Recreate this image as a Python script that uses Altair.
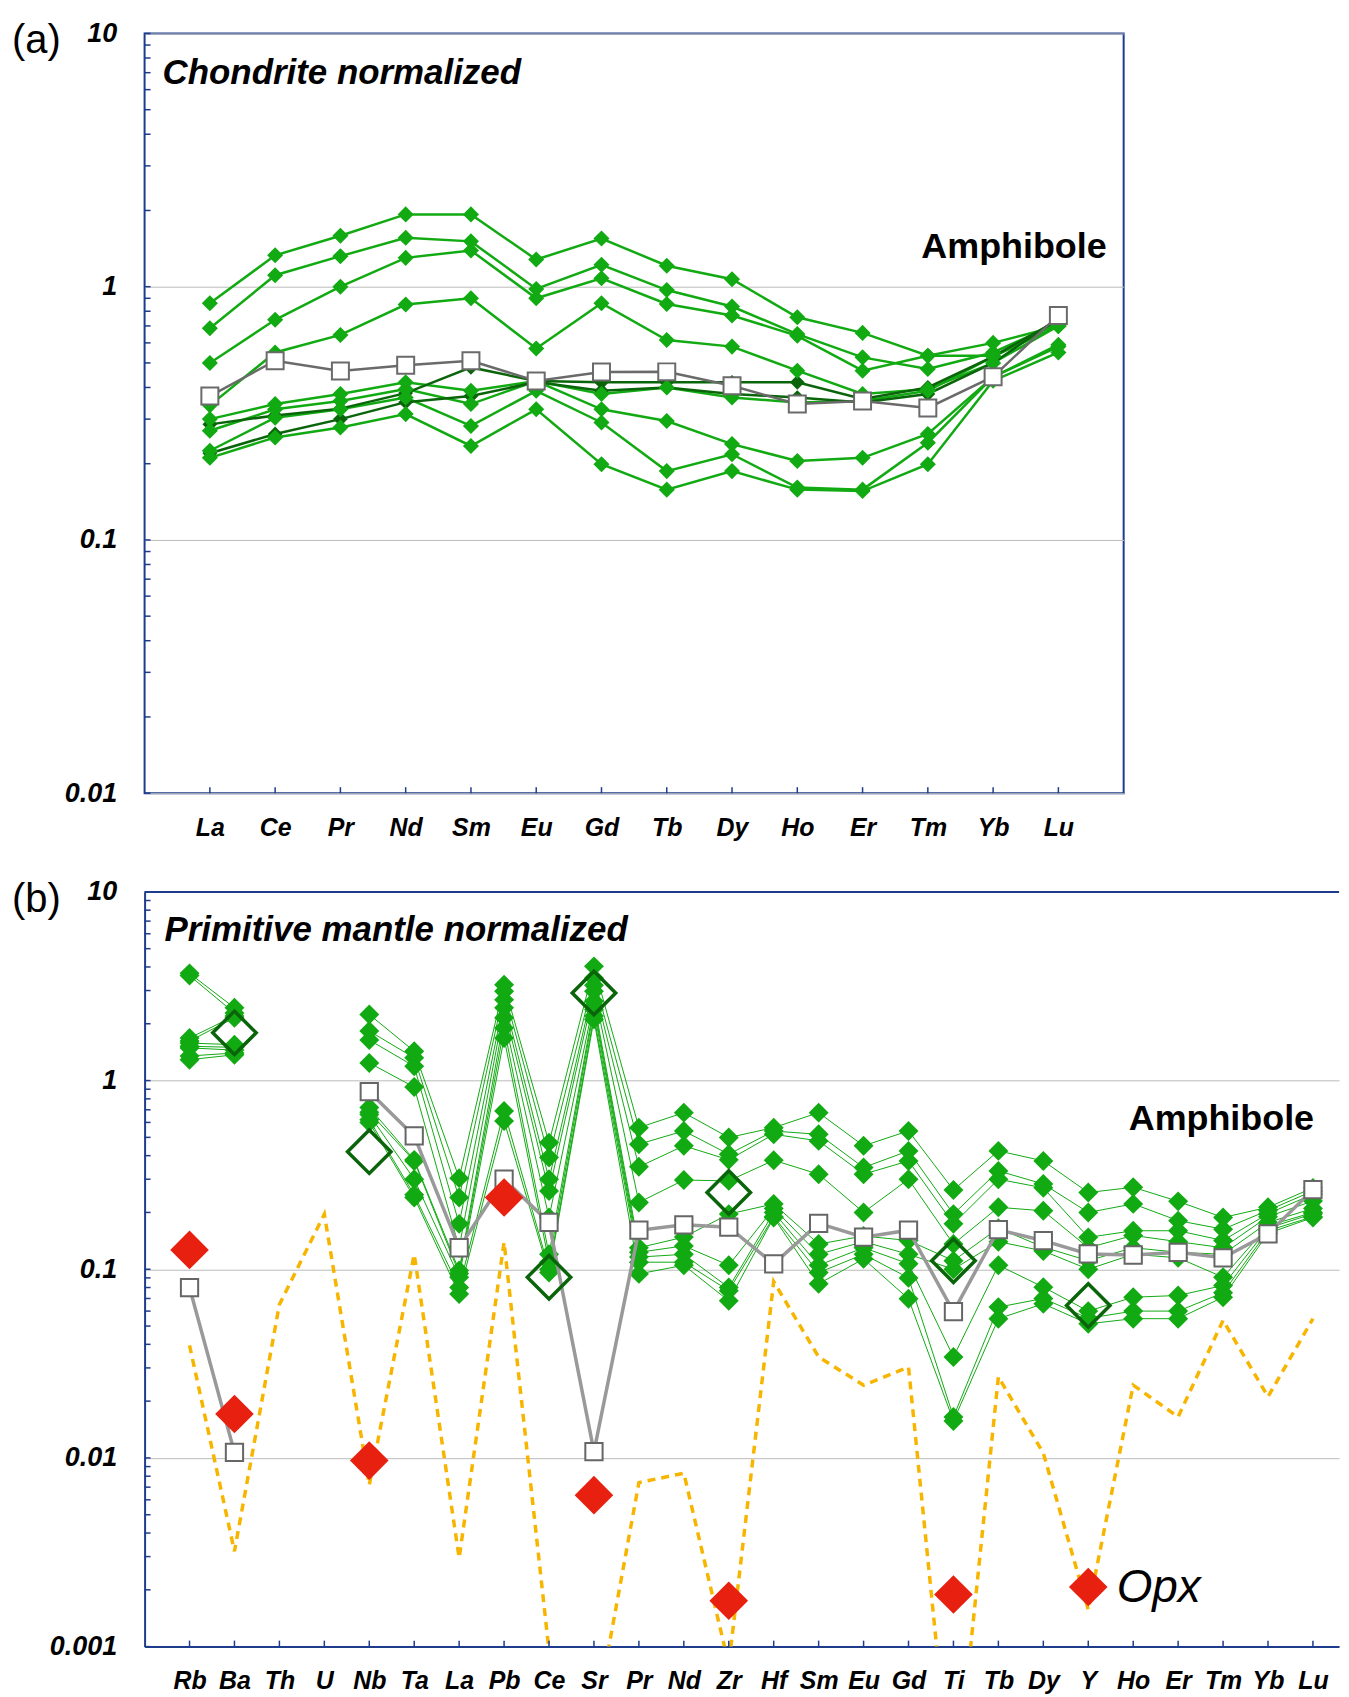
import altair as alt
import pandas as pd

# ---------------- Panel (a): chondrite-normalized REE ----------------
REE = ["La", "Ce", "Pr", "Nd", "Sm", "Eu", "Gd", "Tb", "Dy", "Ho", "Er", "Tm", "Yb", "Lu"]

A1 = [0.86, 1.33, 1.59, 1.93, 1.93, 1.28, 1.55, 1.21, 1.07, 0.757, 0.657, 0.534, 0.60, 0.70]
A2 = [0.685, 1.11, 1.32, 1.56, 1.51, 0.98, 1.22, 0.97, 0.835, 0.65, 0.526, 0.473, 0.55, 0.72]
A3 = [0.50, 0.74, 1.00, 1.30, 1.39, 0.90, 1.08, 0.855, 0.77, 0.64, 0.466, 0.534, 0.534, 0.70]
A4 = [0.34, 0.55, 0.645, 0.85, 0.90, 0.57, 0.86, 0.616, 0.58, 0.466, 0.377, 0.394, 0.50, 0.70]
A5 = [0.30, 0.344, 0.377, 0.419, 0.388, 0.424, 0.377, 0.40, 0.365, 0.349, 0.354, 0.388, 0.53, 0.70]
A6 = [0.27, 0.328, 0.354, 0.394, 0.344, 0.424, 0.328, 0.295, 0.239, 0.205, 0.211, 0.262, 0.44, 0.58]
A7 = [0.225, 0.304, 0.328, 0.365, 0.282, 0.388, 0.291, 0.187, 0.218, 0.161, 0.158, 0.242, 0.44, 0.59]
A8 = [0.211, 0.254, 0.278, 0.314, 0.235, 0.328, 0.199, 0.158, 0.187, 0.158, 0.156, 0.199, 0.425, 0.55]
AD1 = [0.286, 0.31, 0.33, 0.38, 0.48, 0.424, 0.419, 0.419, 0.419, 0.419, 0.36, 0.40, 0.53, 0.74]
AD2 = [0.22, 0.262, 0.30, 0.35, 0.37, 0.42, 0.388, 0.40, 0.377, 0.365, 0.349, 0.377, 0.50, 0.75]
A_GRAY = [0.37, 0.51, 0.465, 0.49, 0.51, 0.424, 0.46, 0.461, 0.406, 0.344, 0.354, 0.332, 0.441, 0.77]

# ---------------- Panel (b): primitive-mantle-normalized trace elements ----------------
TE = ["Rb", "Ba", "Th", "U", "Nb", "Ta", "La", "Pb", "Ce", "Sr", "Pr", "Nd", "Zr", "Hf",
      "Sm", "Eu", "Gd", "Ti", "Tb", "Dy", "Y", "Ho", "Er", "Tm", "Yb", "Lu"]

B1 = [3.7, 2.43, None, None, 2.24, 1.43, 0.304, 3.22, 0.469, 4.03, 0.563, 0.676, 0.499, 0.563, 0.676, 0.451, 0.541, 0.263, 0.424, 0.375, 0.255, 0.272, 0.229, 0.188, 0.213, 0.27]
B2 = [3.6, 2.28, None, None, 1.83, 1.32, 0.24, 2.97, 0.391, 3.50, 0.46, 0.541, 0.407, 0.54, 0.519, 0.346, 0.424, 0.196, 0.332, 0.283, 0.20, 0.222, 0.181, 0.163, 0.205, 0.26]
B3 = [1.68, 2.2, None, None, 1.64, 1.19, 0.174, 2.68, 0.30, 3.2, 0.349, 0.451, 0.38, 0.519, 0.479, 0.319, 0.375, 0.174, 0.30, 0.27, 0.1476, 0.160, 0.160, 0.142, 0.197, 0.25]
B4 = [1.62, 2.15, None, None, 1.24, 0.924, 0.13, 2.43, 0.26, 2.97, 0.226, 0.297, 0.294, 0.378, 0.319, 0.20, 0.30, 0.136, 0.213, 0.204, 0.13, 0.151, 0.14, 0.13, 0.19, 0.23]
B5 = [1.58, 1.55, None, None, 0.72, 0.38, 0.0984, 2.15, 0.188, 2.63, 0.13, 0.148, 0.196, 0.222, 0.136, 0.15, 0.142, 0.111, 0.165, 0.131, 0.111, 0.13, 0.123, 0.12, 0.177, 0.21]
B6 = [1.52, 1.5, None, None, 0.68, 0.375, 0.095, 1.90, 0.12, 2.5, 0.123, 0.133, 0.105, 0.21, 0.12, 0.14, 0.12, 0.10, 0.14, 0.125, 0.10, 0.12, 0.115, 0.0907, 0.17, 0.2]
B7 = [1.49, 1.45, None, None, 0.66, 0.30, 0.0907, 1.68, 0.109, 2.38, 0.116, 0.12, 0.08, 0.20, 0.105, 0.13, 0.107, 0.0343, 0.105, 0.0804, 0.06, 0.0711, 0.0726, 0.082, 0.165, 0.197]
B8 = [1.35, 1.4, None, None, 0.62, 0.248, 0.08, 0.69, 0.10, 2.2, 0.109, 0.109, 0.077, 0.19, 0.096, 0.12, 0.09, 0.0165, 0.063, 0.07, 0.055, 0.06, 0.06, 0.075, 0.16, 0.19]
B9 = [1.29, 1.37, None, None, 0.60, 0.24, 0.074, 0.61, 0.096, 2.11, 0.0945, 0.105, 0.068, 0.188, 0.0837, 0.1135, 0.0697, 0.0157, 0.0547, 0.0656, 0.0514, 0.0547, 0.0547, 0.0711, 0.155, 0.188]
B_GRAY = [0.080, 0.0107, None, None, 0.873, 0.509, 0.130, 0.30, 0.177, 0.0108, 0.161, 0.172, 0.167, 0.1068, 0.175, 0.148, 0.161, 0.0597, 0.162, 0.1417, 0.1205, 0.119, 0.123, 0.115, 0.154, 0.264]
B_OPEN = [None, 1.79, None, None, 0.42, None, None, None, 0.0907, 2.91, None, None, 0.255, None, None, None, None, 0.111, None, None, 0.0643, None, None, None, None, None]
OPX = [0.1266, 0.0171, None, None, 0.00968, None, None, 0.24, None, 0.00635, None, None, 0.00175, None, None, None, None, 0.00189, None, None, 0.00207, None, None, None, None, None]
OPX_LINE = [0.0395, 0.0032, 0.065, 0.196, 0.0072, 0.12, 0.00295, 0.139, 0.00095, 0.00037, 0.0074, 0.0083, 0.0008, 0.086, 0.0343, 0.0243, 0.0303, 0.00013, 0.0269, 0.0106, 0.00157, 0.0243, 0.0165, 0.0536, 0.0211, 0.0547]

FONT = "Liberation Sans"
NAVY = "#1E3C8C"
GREEN = "#12AA12"
DKGREEN = "#0A640A"
GRID = "#BBBBBB"
RED = "#E82010"
ORANGE = "#F7B500"


def long_df(series, prefix):
    rows = []
    for k, vals in enumerate(series):
        seg = 0
        for i, v in enumerate(vals):
            if v is None:
                seg += 1
                continue
            rows.append({"s": f"{prefix}{k}_{seg}", "i": i, "v": v})
    return pd.DataFrame(rows)


def pts(vals):
    return pd.DataFrame([{"i": i, "v": v} for i, v in enumerate(vals) if v is not None])


def enc_x(names, xmax, domain):
    arr = "[" + ",".join(f"'{n}'" for n in names) + "]"
    ax = dict(values=list(range(len(names))), labelExpr=arr + "[datum.value]",
              grid=False, ticks=False,
              labelFont=FONT, labelFontSize=25, labelFontWeight="bold",
              labelFontStyle="italic", labelColor="black", labelPadding=22,
              labelFlush=False, labelOverlap=False)
    axis = (alt.Axis(domain=True, domainColor=NAVY, domainWidth=2, **ax) if domain
            else alt.Axis(domain=False, **ax))
    return alt.X("i:Q", title=None,
                 scale=alt.Scale(domain=[-1, xmax], nice=False, zero=False), axis=axis)


def enc_y(field, ydom, yvals, domain):
    ax = dict(values=yvals, format="~g", grid=True, gridColor=GRID, gridWidth=1, ticks=False,
              labelFont=FONT, labelFontSize=27, labelFontWeight="bold", labelFontStyle="italic",
              labelColor="black", labelPadding=28, labelFlush=False, labelOverlap=False)
    axis = (alt.Axis(domain=True, domainColor=NAVY, domainWidth=2, **ax) if domain
            else alt.Axis(domain=False, **ax))
    return alt.Y(f"{field}:Q", title=None,
                 scale=alt.Scale(type="log", domain=ydom, nice=False), axis=axis)


def text_layer(txt, x, y, size, weight="normal", style="normal", align="left"):
    return alt.Chart(pd.DataFrame({"d": [0]})).mark_text(
        text=txt, font=FONT, fontSize=size, fontWeight=weight, fontStyle=style,
        align=align, baseline="middle", color="black"
    ).encode(x=alt.value(x), y=alt.value(y))


def tick_layers(names, xmax, ydom, yvals, decades, H, domain):
    X = enc_x(names, xmax, domain)
    tvals = [d * k for d in decades for k in range(1, 10)] + [ydom[1]]
    ty = alt.Chart(pd.DataFrame({"t": tvals})).mark_rule(color=NAVY, strokeWidth=1.5).encode(
        y=enc_y("t", ydom, yvals, domain), x=alt.value(0), x2=alt.value(6))
    tx = alt.Chart(pd.DataFrame({"i": list(range(len(names)))})).mark_rule(
        color=NAVY, strokeWidth=1.5).encode(x=X, y=alt.value(H), y2=alt.value(H - 6))
    return [ty, tx]


# ---------------- build panel (a) ----------------
WA, HA = 982, 762
XA_MAX = 14
YA_DOM = [0.01, 10]
YA_VALS = [0.01, 0.1, 1, 10]
xa = enc_x(REE, XA_MAX, False)
ya = enc_y("v", YA_DOM, YA_VALS, False)

green_a = long_df([A1, A2, A3, A4, A5, A6, A7, A8], "g")
dark_a = long_df([AD1, AD2], "d")
gray_a = long_df([A_GRAY], "q")

la = [
    alt.Chart(green_a).mark_line(color=GREEN, strokeWidth=2.5).encode(x=xa, y=ya, detail="s:N"),
    alt.Chart(dark_a).mark_line(color=DKGREEN, strokeWidth=2.5).encode(x=xa, y=ya, detail="s:N"),
    alt.Chart(dark_a).mark_point(shape="diamond", filled=True, color=DKGREEN, size=220, opacity=1).encode(x=xa, y=ya),
    alt.Chart(green_a).mark_point(shape="diamond", filled=True, color=GREEN, size=260, opacity=1).encode(x=xa, y=ya),
    alt.Chart(gray_a).mark_line(color="#6A6A6A", strokeWidth=2.5).encode(x=xa, y=ya, detail="s:N"),
    alt.Chart(gray_a).mark_point(shape="square", fill="white", stroke="#6A6A6A", strokeWidth=2,
                                 size=290, opacity=1).encode(x=xa, y=ya),
]
la += tick_layers(REE, XA_MAX, YA_DOM, YA_VALS, [0.01, 0.1, 1], HA, False)
la += [
    text_layer("(a)", -133, 8, 40),
    text_layer("Chondrite normalized", 18, 40, 35, "bold", "italic"),
    text_layer("Amphibole", 965, 214, 36, "bold", "normal", "right"),
]
panel_a = alt.layer(*la).properties(width=WA, height=HA,
                                    view=alt.ViewBackground(stroke=NAVY, strokeWidth=2))

# ---------------- build panel (b) ----------------
WB, HB = 1198, 757
XB_MAX = 25.58
YB_DOM = [0.001, 10]
YB_VALS = [0.001, 0.01, 0.1, 1, 10]
xb = enc_x(TE, XB_MAX, True)
yb = enc_y("v", YB_DOM, YB_VALS, True)

green_b = long_df([B1, B2, B3, B4, B5, B6, B7, B8, B9], "g")
gray_b = long_df([B_GRAY], "q")
opx_line = long_df([OPX_LINE], "o")

lb = [
    alt.Chart(opx_line).mark_line(color=ORANGE, strokeWidth=3.5, strokeDash=[8, 6], clip=True).encode(
        x=xb, y=yb, detail="s:N"),
    alt.Chart(green_b).mark_line(color=GREEN, strokeWidth=1).encode(x=xb, y=yb, detail="s:N"),
    alt.Chart(green_b).mark_point(shape="diamond", filled=True, color=GREEN, size=400, opacity=1).encode(x=xb, y=yb),
    alt.Chart(gray_b).mark_line(color="#999999", strokeWidth=3.5).encode(x=xb, y=yb, detail="s:N"),
    alt.Chart(gray_b).mark_point(shape="square", fill="white", stroke="#666666", strokeWidth=2,
                                 size=300, opacity=1).encode(x=xb, y=yb),
    alt.Chart(pts(B_OPEN)).mark_point(shape="diamond", filled=False, stroke=DKGREEN, strokeWidth=3.5,
                                      size=1900, opacity=1).encode(x=xb, y=yb),
    alt.Chart(pts(OPX)).mark_point(shape="diamond", filled=True, color=RED, size=1500, opacity=1).encode(x=xb, y=yb),
]
lb += tick_layers(TE, XB_MAX, YB_DOM, YB_VALS, [0.001, 0.01, 0.1, 1], HB, True)
lb += [
    alt.Chart(pd.DataFrame({"d": [0]})).mark_rule(color=NAVY, strokeWidth=2).encode(
        x=alt.value(0), x2=alt.value(WB), y=alt.value(0)),
    text_layer("(b)", -133, 8, 40),
    text_layer("Primitive mantle normalized", 20, 38, 35, "bold", "italic"),
    text_layer("Amphibole", 1173, 228, 36, "bold", "normal", "right"),
    text_layer("Opx", 975, 698, 46, "normal", "italic"),
]
panel_b = alt.layer(*lb).properties(width=WB, height=HB,
                                    view=alt.ViewBackground(stroke="transparent"))

chart = alt.vconcat(panel_a, panel_b, spacing=36,
                    padding={"left": 3, "top": 8, "right": 0, "bottom": 0}).configure_view(
    stroke=NAVY, strokeWidth=2)

chart.save("out.html", embed_options={"renderer": "svg", "actions": False})
